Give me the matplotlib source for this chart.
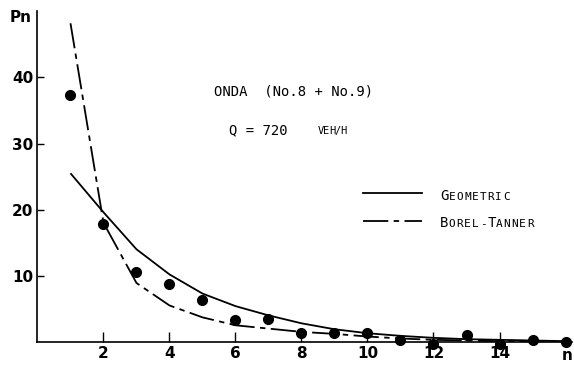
import numpy as np
import matplotlib.pyplot as plt

# n and the three series
n = np.arange(1, 17)
observed = [37.3, 17.9, 10.6, 8.7, 6.3, 3.3, 3.4, 1.4, 1.4, 1.4, 0.2, -0.4, 1.0, -0.4, 0.2, 0.0]
geometric = [25.5, 19.6, 14.0, 10.2, 7.3, 5.4, 4.0, 2.8, 1.9, 1.3, 0.9, 0.6, 0.4, 0.3, 0.2, 0.1]
borel = [48.2, 18.0, 8.9, 5.5, 3.7, 2.5, 2.0, 1.5, 1.2, 0.8, 0.5, 0.3, 0.2, 0.1, 0.05, 0.0]

x_ticks = [2, 4, 6, 8, 10, 12, 14]
y_ticks = [10, 20, 30, 40]

MONO = 'DejaVu Sans Mono'
ADV = 0.602  # advance width of DejaVu Sans Mono, in em
TICKFONT = dict(family='DejaVu Sans', size=11, weight='bold')


def small_caps(ax, x, y, parts, big=10, small=8, step=None):
    # parts: list of (text, is_big); big parts are drawn whole,
    # small ones char by char with a fixed step (points) if given
    off = 0.0
    for txt, is_big in parts:
        if is_big:
            ax.annotate(txt, xy=(x, y), xycoords='data', xytext=(off, 0),
                        textcoords='offset points', fontsize=big, family=MONO,
                        ha='left', va='baseline')
            off += len(txt) * big * ADV
            continue
        for ch in txt:
            ax.annotate(ch, xy=(x, y), xycoords='data', xytext=(off, 0),
                        textcoords='offset points', fontsize=small, family=MONO,
                        ha='left', va='baseline')
            off += step if step else small * ADV


fig = plt.figure(figsize=(5.74, 3.70), dpi=100)
ax = fig.add_axes([0.0653, 0.0762, 0.9314, 0.893])

ax.plot(n, geometric, color='black', lw=1.3, solid_capstyle='butt')
ax.plot(n, borel, color='black', lw=1.3, linestyle=(0, (14, 3, 3, 3)))
ax.plot(n, observed, 'o', color='black', markersize=7, clip_on=False)

ax.set_xlim(0, 16.2)
ax.set_ylim(0, 50)
ax.spines['top'].set_visible(False)
ax.spines['right'].set_visible(False)
ax.spines['left'].set_linewidth(1.2)
ax.spines['bottom'].set_linewidth(1.2)

ax.set_xticks(x_ticks)
ax.set_xticklabels([str(v) for v in x_ticks], fontdict=TICKFONT)
ax.set_yticks(y_ticks)
ax.set_yticklabels([str(v) for v in y_ticks], fontdict=TICKFONT)
ax.tick_params(axis='x', direction='in', length=7, width=1, pad=3)
ax.tick_params(axis='y', direction='in', length=5, width=1, pad=3)

# axis names
fig.text(567 / 574, 1 - 355 / 370, 'n', ha='center', va='center', **TICKFONT)
fig.text(21 / 574, 1 - 18 / 370, 'Pn', ha='center', va='center', **TICKFONT)

# title block
ax.text(0.4785, 0.745, 'ONDA  (No.8 + No.9)', transform=ax.transAxes, ha='center',
        va='baseline', fontsize=10, family=MONO)
small_caps(ax, 5.8, 31.4, [('Q = 720', True)])
small_caps(ax, 8.48, 31.4, [('VEH/H', False)], small=7.5, step=4.2)

# legend drawn by hand
ax.plot([9.85, 11.65], [22.5, 22.5], color='black', lw=1.3)
ax.plot([9.85, 11.65], [18.3, 18.3], color='black', lw=1.3, linestyle=(0, (14, 3, 3, 3)))
small_caps(ax, 12.2, 21.4, [('G', True), ('EOMETRIC', False)], step=5.6)
small_caps(ax, 12.2, 17.3, [('B', True), ('OREL-', False), ('T', True), ('ANNER', False)],
           step=5.6)

fig.savefig('out.png', dpi=100)
